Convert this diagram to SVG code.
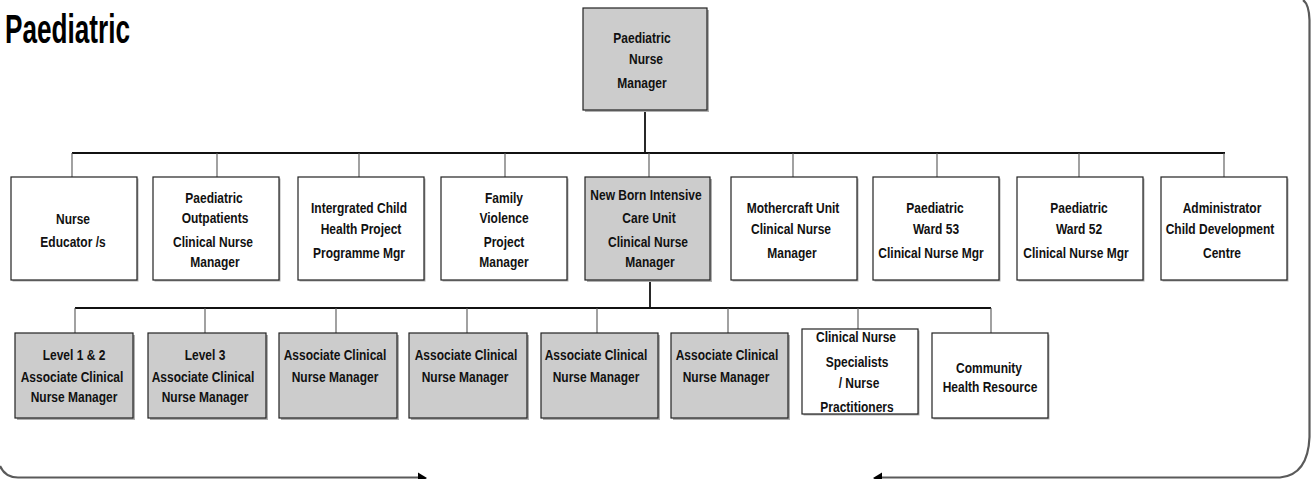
<svg xmlns="http://www.w3.org/2000/svg" width="1314" height="479" viewBox="0 0 1314 479">
  <style>
    .box { stroke: #222; stroke-width: 1.2; }
    .grey { fill: #cccccc; }
    .white { fill: #ffffff; }
    .shadow { fill: #b0b0b0; }
    .lbl { font-family: "Liberation Sans", Arial, sans-serif; font-weight: bold; font-size: 15px; fill: #111; text-anchor: middle; }
    .bus { stroke: #111; stroke-width: 1.8; fill: none; }
    .drop { stroke: #555; stroke-width: 1.1; fill: none; }
    .frame { stroke: #5a5a5a; stroke-width: 2.2; fill: none; }
  </style>

  <rect width="1314" height="479" fill="#ffffff"/>

  <!-- page title -->
  <text x="5" y="43" font-family="Liberation Sans, Arial, sans-serif" font-weight="bold" font-size="40" fill="#000" textLength="125" lengthAdjust="spacingAndGlyphs">Paediatric</text>

  <!-- surrounding bracket with arrows along the bottom -->
  <g id="frame">
    <path class="frame" d="M 0,466 Q 5,477.5 18,477.5 L 420,477.5"/>
    <polygon points="418,472.5 427,478 418,484" fill="#000"/>
    <path class="frame" d="M 880,477.5 L 1280,477.5 Q 1308,475 1309.5,437 L 1309.5,20 Q 1309,4 1303,0"/>
    <polygon points="882,472.5 873,478 882,484" fill="#000"/>
  </g>

  <!-- connectors -->
  <g id="connectors">
    <line class="bus" x1="645" y1="110" x2="645" y2="153"/>
    <line class="bus" x1="72" y1="153" x2="1225" y2="153"/>
    <line class="drop" x1="72" y1="153" x2="72" y2="177"/>
    <line class="drop" x1="217" y1="153" x2="217" y2="177"/>
    <line class="drop" x1="359" y1="153" x2="359" y2="177"/>
    <line class="drop" x1="505" y1="153" x2="505" y2="177"/>
    <line class="drop" x1="649" y1="153" x2="649" y2="177"/>
    <line class="drop" x1="793" y1="153" x2="793" y2="177"/>
    <line class="drop" x1="937" y1="153" x2="937" y2="177"/>
    <line class="drop" x1="1079" y1="153" x2="1079" y2="177"/>
    <line class="drop" x1="1224" y1="153" x2="1224" y2="177"/>

    <line class="bus" x1="650" y1="280" x2="650" y2="308"/>
    <line class="bus" x1="75" y1="308" x2="991" y2="308"/>
    <line class="drop" x1="75" y1="308" x2="75" y2="333"/>
    <line class="drop" x1="205" y1="308" x2="205" y2="333"/>
    <line class="drop" x1="336" y1="308" x2="336" y2="333"/>
    <line class="drop" x1="467" y1="308" x2="467" y2="333"/>
    <line class="drop" x1="597" y1="308" x2="597" y2="333"/>
    <line class="drop" x1="728" y1="308" x2="728" y2="333"/>
    <line class="drop" x1="858" y1="308" x2="858" y2="329"/>
    <line class="drop" x1="991" y1="308" x2="991" y2="333"/>
  </g>

  <!-- labels are narrowed horizontally around their anchor point -->

  <!-- top level -->
  <g id="paediatric-nurse-manager">
    <rect class="shadow" x="585" y="10" width="124" height="102"/>
    <rect class="box grey" x="583" y="8" width="124" height="102"/>
    <text class="lbl" transform="translate(642 43) scale(0.8 1)">Paediatric</text>
    <text class="lbl" transform="translate(646 64) scale(0.8 1)">Nurse</text>
    <text class="lbl" transform="translate(642 88) scale(0.8 1)">Manager</text>
  </g>

  <!-- second level -->
  <g id="nurse-educators">
    <rect class="shadow" x="12.5" y="178.5" width="126" height="103"/>
    <rect class="box white" x="11" y="177" width="126" height="103"/>
    <text class="lbl" transform="translate(73 224) scale(0.8 1)">Nurse</text>
    <text class="lbl" transform="translate(73 247) scale(0.8 1)">Educator /s</text>
  </g>
  <g id="outpatients">
    <rect class="shadow" x="154.5" y="178.5" width="126" height="103"/>
    <rect class="box white" x="153" y="177" width="126" height="103"/>
    <text class="lbl" transform="translate(214 203) scale(0.8 1)">Paediatric</text>
    <text class="lbl" transform="translate(215 223) scale(0.8 1)">Outpatients</text>
    <text class="lbl" transform="translate(213 247) scale(0.8 1)">Clinical Nurse</text>
    <text class="lbl" transform="translate(215 267) scale(0.8 1)">Manager</text>
  </g>
  <g id="integrated-child-health">
    <rect class="shadow" x="299.5" y="178.5" width="126" height="103"/>
    <rect class="box white" x="298" y="177" width="126" height="103"/>
    <text class="lbl" transform="translate(359 213) scale(0.8 1)">Intergrated Child</text>
    <text class="lbl" transform="translate(361 234) scale(0.8 1)">Health Project</text>
    <text class="lbl" transform="translate(359 258) scale(0.8 1)">Programme Mgr</text>
  </g>
  <g id="family-violence">
    <rect class="shadow" x="442.5" y="178.5" width="126" height="103"/>
    <rect class="box white" x="441" y="177" width="126" height="103"/>
    <text class="lbl" transform="translate(504 203) scale(0.8 1)">Family</text>
    <text class="lbl" transform="translate(504 223) scale(0.8 1)">Violence</text>
    <text class="lbl" transform="translate(504 247) scale(0.8 1)">Project</text>
    <text class="lbl" transform="translate(504 267) scale(0.8 1)">Manager</text>
  </g>
  <g id="nbicu">
    <rect class="shadow" x="587" y="179" width="125" height="103"/>
    <rect class="box grey" x="585" y="177" width="125" height="103"/>
    <text class="lbl" transform="translate(646 200) scale(0.8 1)">New Born Intensive</text>
    <text class="lbl" transform="translate(649 223) scale(0.8 1)">Care Unit</text>
    <text class="lbl" transform="translate(648 247) scale(0.8 1)">Clinical Nurse</text>
    <text class="lbl" transform="translate(650 267) scale(0.8 1)">Manager</text>
  </g>
  <g id="mothercraft">
    <rect class="shadow" x="732.5" y="178.5" width="126" height="103"/>
    <rect class="box white" x="731" y="177" width="126" height="103"/>
    <text class="lbl" transform="translate(793 213) scale(0.8 1)">Mothercraft Unit</text>
    <text class="lbl" transform="translate(791 234) scale(0.8 1)">Clinical Nurse</text>
    <text class="lbl" transform="translate(792 258) scale(0.8 1)">Manager</text>
  </g>
  <g id="ward-53">
    <rect class="shadow" x="874.5" y="178.5" width="126" height="103"/>
    <rect class="box white" x="873" y="177" width="126" height="103"/>
    <text class="lbl" transform="translate(935 213) scale(0.8 1)">Paediatric</text>
    <text class="lbl" transform="translate(936 234) scale(0.8 1)">Ward 53</text>
    <text class="lbl" transform="translate(931 258) scale(0.8 1)">Clinical Nurse Mgr</text>
  </g>
  <g id="ward-52">
    <rect class="shadow" x="1018.5" y="178.5" width="126" height="103"/>
    <rect class="box white" x="1017" y="177" width="126" height="103"/>
    <text class="lbl" transform="translate(1079 213) scale(0.8 1)">Paediatric</text>
    <text class="lbl" transform="translate(1079 234) scale(0.8 1)">Ward 52</text>
    <text class="lbl" transform="translate(1076 258) scale(0.8 1)">Clinical Nurse Mgr</text>
  </g>
  <g id="child-development">
    <rect class="shadow" x="1162.5" y="178.5" width="126" height="103"/>
    <rect class="box white" x="1161" y="177" width="126" height="103"/>
    <text class="lbl" transform="translate(1222 213) scale(0.8 1)">Administrator</text>
    <text class="lbl" transform="translate(1220 234) scale(0.8 1)">Child Development</text>
    <text class="lbl" transform="translate(1222 258) scale(0.8 1)">Centre</text>
  </g>

  <!-- third level -->
  <g id="acnm-level-1-2">
    <rect class="shadow" x="17" y="335" width="118" height="85"/>
    <rect class="box grey" x="15" y="333" width="118" height="85"/>
    <text class="lbl" transform="translate(74 360) scale(0.8 1)">Level 1  &amp; 2</text>
    <text class="lbl" transform="translate(72 382) scale(0.8 1)">Associate Clinical</text>
    <text class="lbl" transform="translate(74 402) scale(0.8 1)">Nurse Manager</text>
  </g>
  <g id="acnm-level-3">
    <rect class="shadow" x="150" y="335" width="118" height="85"/>
    <rect class="box grey" x="148" y="333" width="118" height="85"/>
    <text class="lbl" transform="translate(205 360) scale(0.8 1)">Level 3</text>
    <text class="lbl" transform="translate(203 382) scale(0.8 1)">Associate Clinical</text>
    <text class="lbl" transform="translate(205 402) scale(0.8 1)">Nurse Manager</text>
  </g>
  <g id="acnm-3">
    <rect class="shadow" x="281" y="335" width="118" height="85"/>
    <rect class="box grey" x="279" y="333" width="118" height="85"/>
    <text class="lbl" transform="translate(335 360) scale(0.8 1)">Associate Clinical</text>
    <text class="lbl" transform="translate(335 382) scale(0.8 1)">Nurse Manager</text>
  </g>
  <g id="acnm-4">
    <rect class="shadow" x="411" y="335" width="118" height="85"/>
    <rect class="box grey" x="409" y="333" width="118" height="85"/>
    <text class="lbl" transform="translate(466 360) scale(0.8 1)">Associate Clinical</text>
    <text class="lbl" transform="translate(465 382) scale(0.8 1)">Nurse Manager</text>
  </g>
  <g id="acnm-5">
    <rect class="shadow" x="543" y="335" width="117" height="85"/>
    <rect class="box grey" x="541" y="333" width="117" height="85"/>
    <text class="lbl" transform="translate(596 360) scale(0.8 1)">Associate Clinical</text>
    <text class="lbl" transform="translate(596 382) scale(0.8 1)">Nurse Manager</text>
  </g>
  <g id="acnm-6">
    <rect class="shadow" x="673" y="335" width="117" height="85"/>
    <rect class="box grey" x="671" y="333" width="117" height="85"/>
    <text class="lbl" transform="translate(727 360) scale(0.8 1)">Associate Clinical</text>
    <text class="lbl" transform="translate(726 382) scale(0.8 1)">Nurse Manager</text>
  </g>
  <g id="cns-np">
    <rect class="shadow" x="803.5" y="330.5" width="116" height="85"/>
    <rect class="box white" x="802" y="329" width="116" height="85"/>
    <text class="lbl" transform="translate(856 342) scale(0.8 1)">Clinical Nurse</text>
    <text class="lbl" transform="translate(857 367) scale(0.8 1)">Specialists</text>
    <text class="lbl" transform="translate(859 388) scale(0.8 1)">/ Nurse</text>
    <text class="lbl" transform="translate(857 412) scale(0.8 1)">Practitioners</text>
  </g>
  <g id="community-health">
    <rect class="shadow" x="933.5" y="334.5" width="116" height="85"/>
    <rect class="box white" x="932" y="333" width="116" height="85"/>
    <text class="lbl" transform="translate(989 373) scale(0.8 1)">Community</text>
    <text class="lbl" transform="translate(990 392) scale(0.8 1)">Health Resource</text>
  </g>
</svg>
